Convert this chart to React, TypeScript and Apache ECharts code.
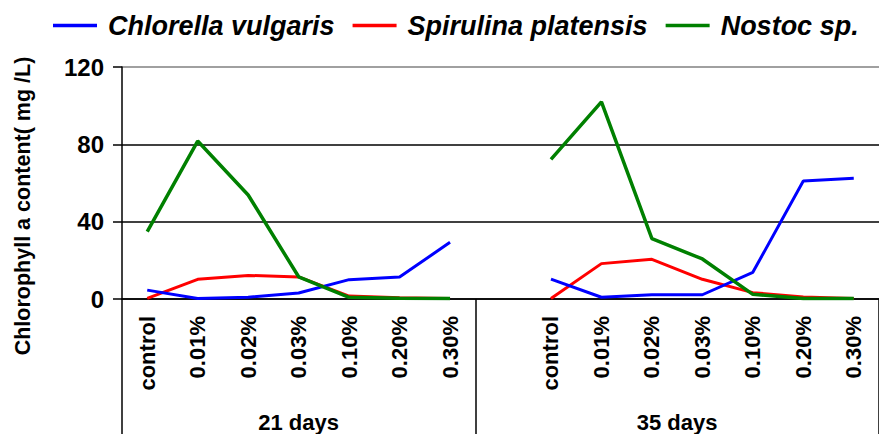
import React, { useEffect, useRef } from "react";
import * as echarts from "echarts";

const doseLabels = ["control", "0.01%", "0.02%", "0.03%", "0.10%", "0.20%", "0.30%"];
const categories = [...doseLabels, "", ...doseLabels];
const groupLabels = ["21 days", "35 days"];
const yTicks = [0, 40, 80, 120];

const chlorella21 = [4.6, 0.3, 0.9, 3.1, 10.0, 11.4, 29.3];
const chlorella35 = [10.3, 0.9, 2.2, 2.2, 13.8, 61.0, 62.4];
const spirulina21 = [0.3, 10.2, 12.2, 11.4, 1.5, 0.6, 0.3];
const spirulina35 = [0.3, 18.3, 20.5, 10.2, 3.3, 1.0, 0.3];
const nostoc21 = [34.8, 81.7, 53.8, 11.5, 0.9, 0.4, 0.3];
const nostoc35 = [72.2, 102.0, 31.2, 20.7, 2.4, 0.3, 0.2];

const join = (a: number[], b: number[]) => [...a, null, ...b];

const FONT = "'Liberation Sans', Arial, sans-serif";

export default function App() {
  const ref = useRef<HTMLDivElement>(null);
  useEffect(() => {
    if (!ref.current) return;
    const chart = echarts.init(ref.current, undefined, { renderer: "svg" });
    const n = categories.length;
    chart.setOption({
      animation: false,
      backgroundColor: "#fff",
      textStyle: { fontFamily: FONT },
      legend: {
        left: 53,
        top: 12,
        padding: 0,
        icon: "rect",
        itemWidth: 44,
        itemHeight: 3.5,
        itemGap: 18,
        textStyle: {
          fontFamily: FONT,
          fontSize: 27,
          fontWeight: "bold",
          fontStyle: "italic",
          color: "#000",
          padding: [0, 0, 0, 6],
        },
        data: ["Chlorella vulgaris", "Spirulina platensis", "Nostoc sp."],
      },
      grid: { left: 122, right: -8, top: 67, bottom: 135, containLabel: false },
      xAxis: [
        {
          type: "category",
          data: categories,
          boundaryGap: true,
          axisLine: { show: true, lineStyle: { color: "#000", width: 1.5 } },
          axisTick: { show: false },
          axisLabel: {
            interval: 0,
            rotate: 90,
            margin: 17,
            fontFamily: FONT,
            fontSize: 22,
            fontWeight: "bold",
            color: "#000",
          },
          splitLine: { show: false },
        },
        {
          type: "value",
          min: 0,
          max: n,
          position: "bottom",
          axisLine: { show: false },
          splitLine: { show: false },
          axisTick: {
            show: true,
            customValues: [0, doseLabels.length, n],
            length: 135,
            lineStyle: { color: "#000", width: 1.5 },
          },
          axisLabel: {
            customValues: [doseLabels.length / 2, doseLabels.length + (n - doseLabels.length) / 2],
            formatter: (v: number) => (v < doseLabels.length ? groupLabels[0] : groupLabels[1]),
            margin: 112,
            fontFamily: FONT,
            fontSize: 22,
            fontWeight: "bold",
            color: "#000",
          },
        },
      ],
      yAxis: {
        type: "value",
        min: yTicks[0],
        max: yTicks[yTicks.length - 1],
        interval: 40,
        name: "Chlorophyll a content( mg /L)",
        nameLocation: "middle",
        nameGap: 88,
        nameTextStyle: {
          fontFamily: FONT,
          fontSize: 21.5,
          fontWeight: "bold",
          color: "#000",
          padding: [0, 46, 0, 0],
        },
        axisLine: { show: true, lineStyle: { color: "#000", width: 1.5 } },
        axisTick: { show: true, length: 9, lineStyle: { color: "#000", width: 1.5 } },
        axisLabel: {
          margin: 18,
          fontFamily: FONT,
          fontSize: 24,
          fontWeight: "bold",
          color: "#000",
        },
        splitLine: {
          show: true,
          lineStyle: { color: ["#000", "#000", "#000", "#808080"], width: 1.5 },
        },
      },
      series: [
        {
          name: "Chlorella vulgaris",
          type: "line",
          data: join(chlorella21, chlorella35),
          symbol: "none",
          connectNulls: false,
          lineStyle: { color: "#0000ff", width: 3 },
          itemStyle: { color: "#0000ff" },
          z: 3,
        },
        {
          name: "Spirulina platensis",
          type: "line",
          data: join(spirulina21, spirulina35),
          symbol: "none",
          connectNulls: false,
          lineStyle: { color: "#ff0000", width: 3 },
          itemStyle: { color: "#ff0000" },
          z: 2,
        },
        {
          name: "Nostoc sp.",
          type: "line",
          data: join(nostoc21, nostoc35),
          symbol: "none",
          connectNulls: false,
          lineStyle: { color: "#008000", width: 3.5 },
          itemStyle: { color: "#008000" },
          z: 4,
        },
      ],
    });
    return () => chart.dispose();
  }, []);
  return <div ref={ref} style={{ width: 879, height: 434, position: "absolute", left: 0, top: 0 }} />;
}
